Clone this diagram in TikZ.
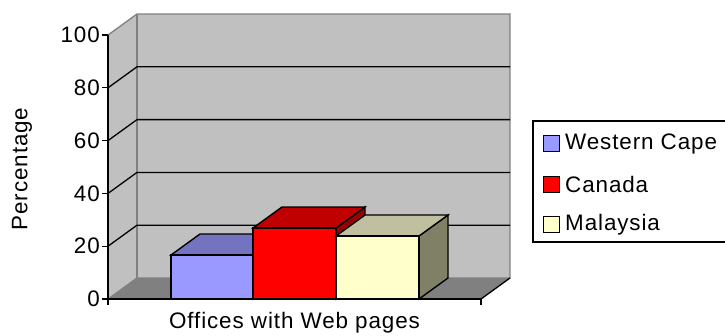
\documentclass[tikz,border=0pt]{standalone}
\usepackage{fontspec}
\setmainfont[LetterSpace=4]{Liberation Sans}
\definecolor{wallgray}{HTML}{C0C0C0}
\definecolor{floorgray}{HTML}{808080}
\definecolor{edgegray}{HTML}{808080}
\definecolor{bluefront}{HTML}{9999FF}
\definecolor{bluetop}{HTML}{7373BF}
\definecolor{blueside}{HTML}{4D4D80}
\definecolor{redfront}{HTML}{FF0000}
\definecolor{redtop}{HTML}{C00000}
\definecolor{redside}{HTML}{990000}
\definecolor{yelfront}{HTML}{FFFFCC}
\definecolor{yeltop}{HTML}{C0C0A0}
\definecolor{yelside}{HTML}{808066}
\newcommand{\cbar}[7]{%
  % #1 x0, #2 x1, #3 ytop, #4 front, #5 top, #6 side, #7 name
  \filldraw[barline, fill=#6] (#2,#3) -- ++(29,-21) -- (#2+29,278) -- (#2,299) -- cycle;
  \filldraw[barline, fill=#5] (#1,#3) -- ++(29,-21) -- (#2+29,#3-21) -- (#2,#3) -- cycle;
  \filldraw[barline, fill=#4] (#1,#3) rectangle (#2,299);
  \coordinate (#7) at (#1,#3);
}
\begin{document}
\begin{tikzpicture}[x=1bp,y=-1bp,line join=miter,
  txt/.style={font=\fontsize{22.5}{25}\selectfont, inner sep=0pt},
  edge/.style={draw=edgegray, line width=1.3bp},
  gridl/.style={draw=black, line width=1.3bp},
  axisline/.style={draw=black, line width=1.3bp},
  barline/.style={draw=black, line width=1.4bp},
  legbox/.style={draw=black, line width=1.3bp},
  swatch/.style={draw=black, line width=1bp, minimum size=16bp, inner sep=0pt}]
\useasboundingbox (0,0) rectangle (725,335);
\fill[white] (0,0) rectangle (725,335);
% walls and floor
\fill[wallgray] (137,14) rectangle (510,278);
\fill[wallgray] (108,35) -- (137,14) -- (137,278) -- (108,299) -- cycle;
\fill[floorgray] (108,299) -- (137,278) -- (510,278) -- (481,299) -- cycle;
\draw[edge] (108,35) -- (137,14) -- (510,14) -- (510,278) -- (137,278) -- (108,299);
\draw[edge] (137,14) -- (137,278);
% gridlines
\foreach \yy in {87.8,140.6,193.4,246.2} {
  \draw[gridl] (108,\yy) -- ++(29,-21) -- (510,\yy-21);
}
\draw[axisline] (510,278) -- (481,299);
% bars
\cbar{171}{253}{255}{bluefront}{bluetop}{blueside}{b1}
\cbar{253}{336}{228}{redfront}{redtop}{redside}{b2}
\cbar{336}{419}{236}{yelfront}{yeltop}{yelside}{b3}
% axes
\draw[axisline] (108,35) -- (108,305);
\draw[axisline] (108,299) -- (481,299) -- (481,305);
\foreach \yy/\lab [count=\i] in {35/100,87.8/80,140.6/60,193.4/40,246.2/20,299/0} {
  \draw[axisline] (102,\yy) -- (108,\yy);
  \node[txt, anchor=east] (t\i) at (100,\yy) {\lab};
}
\node[txt, rotate=90] (ylab) at (22,169) {Percentage};
\node[txt] (xlab) at (294.5,323) {Offices with Web pages};
% legend
\draw[legbox] (732,121) -- (533,121) -- (533,242) -- (732,242);
\node[swatch, fill=bluefront] (s1) at (551.5,143.5) {};
\node[swatch, fill=redfront] (s2) at (551.5,184) {};
\node[swatch, fill=yelfront] (s3) at (551.5,224.5) {};
\node[txt, anchor=west] (l1) at (565,143.5) {Western Cape};
\node[txt, anchor=west] (l2) at (565,184) {Canada};
\node[txt, anchor=west] (l3) at (565,224.5) {Malaysia};
\end{tikzpicture}
\end{document}
